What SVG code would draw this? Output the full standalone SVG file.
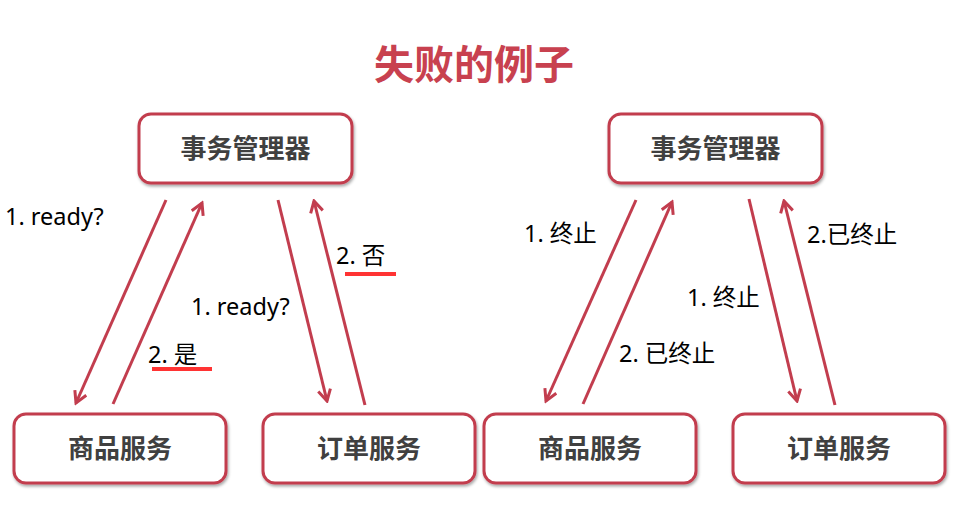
<svg xmlns="http://www.w3.org/2000/svg" width="954" height="510" viewBox="0 0 954 510">
<style>
.box{fill:#fff;stroke:#C23D4E;stroke-width:3;filter:url(#sh)}
.bt{font-family:"Noto Sans CJK SC","Noto Sans",sans-serif;font-weight:bold;font-size:26px;fill:#404040;text-anchor:middle}
.lbl{font-family:"Noto Sans","Noto Sans CJK SC",sans-serif;font-size:23.5px;fill:#000}
.ar{stroke:#C23D4E;stroke-width:3;fill:none;marker-end:url(#ah)}
.ul{stroke:#FF3333;stroke-width:4}
</style>
<defs>
<filter id="sh" x="-10%" y="-20%" width="120%" height="140%">
<feDropShadow dx="1" dy="2" stdDeviation="1.5" flood-color="#000" flood-opacity="0.35"/>
</filter>
<marker id="ah" viewBox="0 0 12 12" refX="10" refY="6" markerWidth="5" markerHeight="5" orient="auto" markerUnits="strokeWidth">
<polyline points="1,1 10,6 1,11" fill="none" stroke="#C23D4E" stroke-width="2.4"/>
</marker>
</defs>
<rect width="954" height="510" fill="#fff"/>
<text x="474" y="79" font-family="'Noto Sans CJK SC',sans-serif" font-weight="bold" font-size="40" fill="#C8414F" text-anchor="middle">失败的例子</text>
<g id="tm1"><rect class="box" x="139" y="114" width="213" height="69" rx="12"/><text class="bt" x="245.5" y="158">事务管理器</text></g>
<g id="sp1"><rect class="box" x="14" y="414" width="212" height="69" rx="12"/><text class="bt" x="120" y="458">商品服务</text></g>
<g id="od1"><rect class="box" x="263" y="414" width="212" height="69" rx="12"/><text class="bt" x="369" y="458">订单服务</text></g>
<g id="tm2"><rect class="box" x="609" y="114" width="213" height="69" rx="12"/><text class="bt" x="715.5" y="158">事务管理器</text></g>
<g id="sp2"><rect class="box" x="484" y="414" width="212" height="69" rx="12"/><text class="bt" x="590" y="458">商品服务</text></g>
<g id="od2"><rect class="box" x="733" y="414" width="212" height="69" rx="12"/><text class="bt" x="839" y="458">订单服务</text></g>
<g id="connectors">
<line class="ar" x1="166" y1="200" x2="76" y2="403"/>
<line class="ar" x1="113" y1="404" x2="202" y2="203"/>
<line class="ar" x1="278" y1="200" x2="327" y2="401"/>
<line class="ar" x1="365" y1="405" x2="314" y2="201"/>
<line class="ar" x1="636" y1="200" x2="546" y2="401"/>
<line class="ar" x1="583" y1="404" x2="672" y2="202"/>
<line class="ar" x1="749" y1="199" x2="797" y2="401"/>
<line class="ar" x1="835" y1="405" x2="784" y2="201"/>
<text class="lbl" x="5" y="225">1. ready?</text>
<text class="lbl" x="336" y="264">2. 否</text>
<line class="ul" x1="345" y1="274" x2="396" y2="274"/>
<text class="lbl" x="191" y="315">1. ready?</text>
<text class="lbl" x="148" y="363">2. 是</text>
<line class="ul" x1="152" y1="369" x2="212" y2="369"/>
<text class="lbl" x="524" y="242">1. 终止</text>
<text class="lbl" x="807" y="243">2.已终止</text>
<text class="lbl" x="687" y="306">1. 终止</text>
<text class="lbl" x="619" y="362">2. 已终止</text>
</g>
</svg>
